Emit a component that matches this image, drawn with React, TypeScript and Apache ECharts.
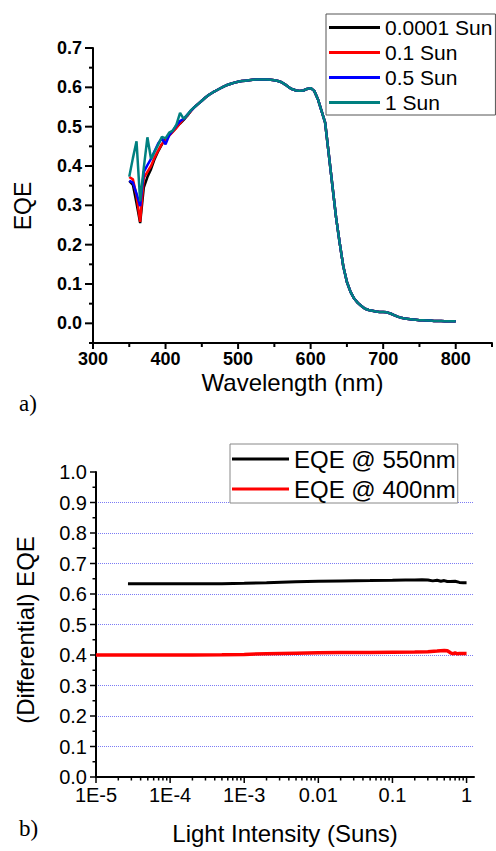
import React, { useEffect, useRef } from 'react';
import * as echarts from 'echarts';

// ---------- Panel a) EQE spectra ----------
const WAVELENGTH = [
  350, 355, 360, 365, 370, 375, 380, 385, 390, 395, 400, 405, 410, 415, 420, 425, 430, 435,
  440, 445, 450, 455, 460, 465, 470, 475, 480, 485, 490, 495, 500, 505, 510, 515, 520, 525,
  530, 535, 540, 545, 550, 555, 560, 565, 570, 575, 580, 585, 590, 595, 600, 605, 610, 615,
  620, 625, 630, 635, 640, 645, 650, 655, 660, 665, 670, 675, 680, 685, 690, 695, 700, 705,
  710, 715, 720, 725, 730, 735, 740, 745, 750, 755, 760, 765, 770, 775, 780, 785, 790, 795, 800,
];

// 350–435 nm (differ per light intensity)
const HEAD_0001_SUN = [0.362, 0.352, 0.305, 0.255, 0.345, 0.372, 0.392, 0.418, 0.438, 0.455, 0.468, 0.478, 0.488, 0.498, 0.508, 0.517, 0.528, 0.54];
const HEAD_01_SUN = [0.372, 0.366, 0.325, 0.258, 0.37, 0.385, 0.4, 0.422, 0.44, 0.456, 0.466, 0.477, 0.487, 0.497, 0.509, 0.52, 0.528, 0.54];
const HEAD_05_SUN = [0.362, 0.358, 0.33, 0.298, 0.385, 0.402, 0.418, 0.438, 0.458, 0.47, 0.455, 0.478, 0.49, 0.503, 0.514, 0.52, 0.53, 0.541];
const HEAD_1_SUN = [0.373, 0.42, 0.463, 0.31, 0.395, 0.473, 0.418, 0.437, 0.455, 0.474, 0.47, 0.485, 0.49, 0.505, 0.535, 0.52, 0.53, 0.542];

// 440–800 nm (curves overlap)
const TAIL_COMMON = [
  0.55, 0.558, 0.566, 0.574, 0.581, 0.587, 0.592, 0.597, 0.602, 0.606, 0.609, 0.612, 0.614, 0.616,
  0.617, 0.618, 0.619, 0.62, 0.62, 0.62, 0.62, 0.619, 0.618, 0.616, 0.613, 0.607, 0.6, 0.595,
  0.592, 0.591, 0.592, 0.596, 0.598, 0.591, 0.57, 0.54, 0.51, 0.43, 0.35, 0.27, 0.205, 0.145,
  0.105, 0.08, 0.063, 0.052, 0.044, 0.037, 0.034, 0.032, 0.03, 0.029, 0.029, 0.028, 0.025, 0.021,
  0.017, 0.014, 0.012, 0.011, 0.01, 0.009, 0.008, 0.008, 0.007, 0.007, 0.006, 0.006, 0.006, 0.005,
  0.005, 0.005, 0.005,
];

const SPECTRA_NAMES = ['0.0001 Sun', '0.1 Sun', '0.5 Sun', '1 Sun'];
const SPECTRA_COLORS = ['#000000', '#ff0000', '#0000ff', '#008080'];
const SPECTRA_HEADS = [HEAD_0001_SUN, HEAD_01_SUN, HEAD_05_SUN, HEAD_1_SUN];

const A_X_MIN = 300;
const A_X_MAX = 850;
const A_Y_MIN = -0.05;
const A_Y_MAX = 0.7;
const WL_MAJOR_TICKS = [300, 400, 500, 600, 700, 800];
const WL_MINOR_TICKS = [350, 450, 550, 650, 750, 850];
const EQE_A_MAJOR_TICKS = [0, 0.1, 0.2, 0.3, 0.4, 0.5, 0.6, 0.7];
const EQE_A_MINOR_TICKS = [-0.05, 0.05, 0.15, 0.25, 0.35, 0.45, 0.55, 0.65];

// ---------- Panel b) EQE vs light intensity ----------
const INTENSITY_550 = [2.7e-5, 5e-5, 1e-4, 2e-4, 5e-4, 1e-3, 2e-3, 5e-3, 1e-2, 2e-2, 5e-2, 0.1, 0.15, 0.2, 0.25, 0.3, 0.35, 0.4, 0.45, 0.5, 0.55, 0.6, 0.7, 0.8, 0.9, 1.0];
const EQE_550 = [0.634, 0.634, 0.634, 0.634, 0.634, 0.635, 0.637, 0.64, 0.642, 0.643, 0.644, 0.645, 0.646, 0.646, 0.647, 0.646, 0.643, 0.645, 0.642, 0.644, 0.641, 0.641, 0.642, 0.638, 0.637, 0.637];
const INTENSITY_400 = [1e-5, 2e-5, 5e-5, 1e-4, 2e-4, 5e-4, 1e-3, 2e-3, 5e-3, 1e-2, 2e-2, 5e-2, 0.1, 0.2, 0.3, 0.4, 0.5, 0.55, 0.6, 0.65, 0.7, 0.75, 0.8, 0.9, 1.0];
const EQE_400 = [0.4, 0.4, 0.4, 0.4, 0.4, 0.401, 0.402, 0.404, 0.406, 0.407, 0.408, 0.408, 0.409, 0.41, 0.411, 0.413, 0.415, 0.414, 0.408, 0.404, 0.407, 0.404, 0.405, 0.405, 0.405];

const B_X_MIN = 1e-5;
const B_X_MAX = 1.26;
const B_Y_MIN = 0;
const B_Y_MAX = 1;
const INTENSITY_MAJOR_TICKS = [1e-5, 1e-4, 1e-3, 1e-2, 1e-1, 1];
const INTENSITY_TICK_LABELS = ['1E-5', '1E-4', '1E-3', '0.01', '0.1', '1'];
const INTENSITY_MINOR_TICKS: number[] = [];
INTENSITY_MAJOR_TICKS.slice(0, -1).forEach((d) => {
  for (let k = 2; k <= 9; k++) INTENSITY_MINOR_TICKS.push(+(d * k).toPrecision(3));
});
const EQE_B_MAJOR_TICKS = [0, 0.1, 0.2, 0.3, 0.4, 0.5, 0.6, 0.7, 0.8, 0.9, 1.0];
const EQE_B_MINOR_TICKS = [0.05, 0.15, 0.25, 0.35, 0.45, 0.55, 0.65, 0.75, 0.85, 0.95];

const FONT = '"Liberation Sans", Arial, sans-serif';
const SERIF = '"Liberation Serif", "Times New Roman", serif';

function intensityLabel(v: number): string {
  for (let i = 0; i < INTENSITY_MAJOR_TICKS.length; i++) {
    if (Math.abs(Math.log10(v) - Math.log10(INTENSITY_MAJOR_TICKS[i])) < 1e-6) return INTENSITY_TICK_LABELS[i];
  }
  return '';
}

export default function App() {
  const ref = useRef<HTMLDivElement>(null);

  useEffect(() => {
    if (!ref.current) return;
    const chart = echarts.init(ref.current, undefined, { renderer: 'svg' });

    const black = { color: '#000', width: 2 };
    const spectraSeries = SPECTRA_NAMES.map((name, s) => {
      const values = [...SPECTRA_HEADS[s], ...TAIL_COMMON];
      return {
        name,
        type: 'line',
        xAxisIndex: 0,
        yAxisIndex: 0,
        data: WAVELENGTH.map((w, i) => [w, values[i]]),
        symbol: 'none',
        showSymbol: false,
        color: SPECTRA_COLORS[s],
        lineStyle: { color: SPECTRA_COLORS[s], width: 2.5 },
        itemStyle: { color: SPECTRA_COLORS[s] },
        emphasis: { disabled: true },
        z: 2 + s,
      };
    });

    const labelGraphics = [
      { type: 'text', left: 19, top: 392, style: { text: 'a)', font: `23px ${SERIF}`, fill: '#000' } },
      { type: 'text', left: 19, top: 817, style: { text: 'b)', font: `23px ${SERIF}`, fill: '#000' } },
    ];

    const option: any = {
      animation: false,
      backgroundColor: '#ffffff',
      grid: [
        { left: 93, top: 48, right: 4, bottom: 508 },
        { left: 96, top: 472, right: 22, bottom: 74 },
      ],
      legend: [
        {
          data: SPECTRA_NAMES,
          orient: 'vertical',
          left: 326,
          top: 14,
          icon: 'rect',
          itemWidth: 51,
          itemHeight: 3,
          itemGap: 4,
          padding: [3, 3, 2, 3],
          borderColor: '#555',
          borderWidth: 1,
          backgroundColor: '#ffffff',
          selectedMode: false,
          textStyle: { fontFamily: FONT, fontSize: 21, color: '#000' },
        },
        {
          data: ['EQE @ 550nm', 'EQE @ 400nm'],
          orient: 'vertical',
          left: 230,
          top: 444,
          icon: 'rect',
          itemWidth: 57,
          itemHeight: 3,
          itemGap: 6,
          padding: [3, 2, 2, 2],
          borderColor: '#888',
          borderWidth: 1,
          backgroundColor: '#ffffff',
          selectedMode: false,
          textStyle: { fontFamily: FONT, fontSize: 24, color: '#000' },
        },
      ],
      xAxis: [
        {
          gridIndex: 0,
          type: 'value',
          min: A_X_MIN,
          max: A_X_MAX,
          position: 'bottom',
          name: 'Wavelength (nm)',
          nameLocation: 'middle',
          nameGap: 27,
          nameTextStyle: { fontFamily: FONT, fontSize: 24, color: '#000' },
          axisLine: { show: true, onZero: false, lineStyle: black },
          axisTick: { show: false },
          axisLabel: { customValues: WL_MAJOR_TICKS, fontFamily: FONT, fontWeight: 'bold', fontSize: 18, color: '#000', margin: 7 },
          splitLine: { show: false },
        },
        {
          gridIndex: 1,
          type: 'log',
          logBase: 10,
          min: B_X_MIN,
          max: B_X_MAX,
          position: 'bottom',
          name: 'Light Intensity (Suns)',
          nameLocation: 'middle',
          nameGap: 44,
          nameTextStyle: { fontFamily: FONT, fontSize: 24, color: '#000' },
          axisLine: { show: true, onZero: false, lineStyle: black },
          axisTick: { show: false },
          axisLabel: { customValues: INTENSITY_MAJOR_TICKS, formatter: (v: number) => intensityLabel(v), fontFamily: FONT, fontSize: 20, color: '#000', margin: 8 },
          splitLine: { show: false },
          minorTick: { show: false },
        },
      ],
      yAxis: [
        {
          gridIndex: 0,
          type: 'value',
          min: A_Y_MIN,
          max: A_Y_MAX,
          position: 'left',
          name: 'EQE',
          nameLocation: 'middle',
          nameGap: 59,
          nameRotate: 90,
          nameTextStyle: { fontFamily: FONT, fontSize: 23, color: '#000', padding: [0, 21, 0, 0] },
          axisLine: { show: true, onZero: false, lineStyle: black },
          axisTick: { show: false },
          axisLabel: { customValues: EQE_A_MAJOR_TICKS, formatter: (v: number) => v.toFixed(1), fontFamily: FONT, fontWeight: 'bold', fontSize: 18, color: '#000', margin: 11 },
          splitLine: { show: false },
        },
        {
          gridIndex: 1,
          type: 'value',
          min: B_Y_MIN,
          max: B_Y_MAX,
          interval: 0.1,
          position: 'left',
          name: '(Differential) EQE',
          nameLocation: 'middle',
          nameGap: 59,
          nameRotate: 90,
          nameTextStyle: { fontFamily: FONT, fontSize: 24, color: '#000', padding: [0, 11, 0, 0] },
          axisLine: { show: true, onZero: false, lineStyle: black },
          axisTick: { show: false },
          axisLabel: { customValues: EQE_B_MAJOR_TICKS, formatter: (v: number) => v.toFixed(1), fontFamily: FONT, fontSize: 20, color: '#000', margin: 9 },
          splitLine: { show: true, showMinLine: false, showMaxLine: false, lineStyle: { color: '#7c7cf5', type: 'dotted', width: 1 } },
        },
      ],
      graphic: labelGraphics,
      series: [
        ...spectraSeries,
        {
          name: 'EQE @ 550nm',
          type: 'line',
          xAxisIndex: 1,
          yAxisIndex: 1,
          data: INTENSITY_550.map((x, i) => [x, EQE_550[i]]),
          symbol: 'none',
          showSymbol: false,
          color: '#000000',
          lineStyle: { color: '#000000', width: 3 },
          itemStyle: { color: '#000000' },
          emphasis: { disabled: true },
        },
        {
          name: 'EQE @ 400nm',
          type: 'line',
          xAxisIndex: 1,
          yAxisIndex: 1,
          data: INTENSITY_400.map((x, i) => [x, EQE_400[i]]),
          symbol: 'none',
          showSymbol: false,
          color: '#ff0000',
          lineStyle: { color: '#ff0000', width: 3.5 },
          itemStyle: { color: '#ff0000' },
          emphasis: { disabled: true },
        },
      ],
    };

    chart.setOption(option);

    // Tick marks, positioned through the chart's own axis scales.
    const tickLines: any[] = [];
    const addTicks = (
      gridIdx: number, xMin: number, yMin: number,
      xMajor: number[], xMinor: number[], yMajor: number[], yMinor: number[],
      xMajLen: number, xMinLen: number, yMajLen: number, yMinLen: number, width: number,
    ) => {
      const finder = { xAxisIndex: gridIdx, yAxisIndex: gridIdx };
      const push = (x1: number, y1: number, x2: number, y2: number) =>
        tickLines.push({ type: 'line', z: 100, silent: true, shape: { x1, y1, x2, y2 }, style: { stroke: '#000000', lineWidth: width } });
      xMajor.forEach((v) => { const p = chart.convertToPixel(finder, [v, yMin]) as number[]; push(p[0], p[1], p[0], p[1] + xMajLen); });
      xMinor.forEach((v) => { const p = chart.convertToPixel(finder, [v, yMin]) as number[]; push(p[0], p[1], p[0], p[1] + xMinLen); });
      yMajor.forEach((v) => { const p = chart.convertToPixel(finder, [xMin, v]) as number[]; push(p[0], p[1], p[0] - yMajLen, p[1]); });
      yMinor.forEach((v) => { const p = chart.convertToPixel(finder, [xMin, v]) as number[]; push(p[0], p[1], p[0] - yMinLen, p[1]); });
    };
    addTicks(0, A_X_MIN, A_Y_MIN, WL_MAJOR_TICKS, WL_MINOR_TICKS, EQE_A_MAJOR_TICKS, EQE_A_MINOR_TICKS, 6, 4, 8, 4, 2);
    addTicks(1, B_X_MIN, B_Y_MIN, INTENSITY_MAJOR_TICKS, INTENSITY_MINOR_TICKS, EQE_B_MAJOR_TICKS, EQE_B_MINOR_TICKS, 6, 3.5, 6, 3.5, 1.5);

    chart.setOption({ graphic: [...labelGraphics, ...tickLines] }, { replaceMerge: ['graphic'] });

    return () => chart.dispose();
  }, []);

  return (
    <div
      ref={ref}
      style={{ position: 'fixed', left: 0, top: 0, width: 496, height: 851, background: '#fff' }}
    />
  );
}
